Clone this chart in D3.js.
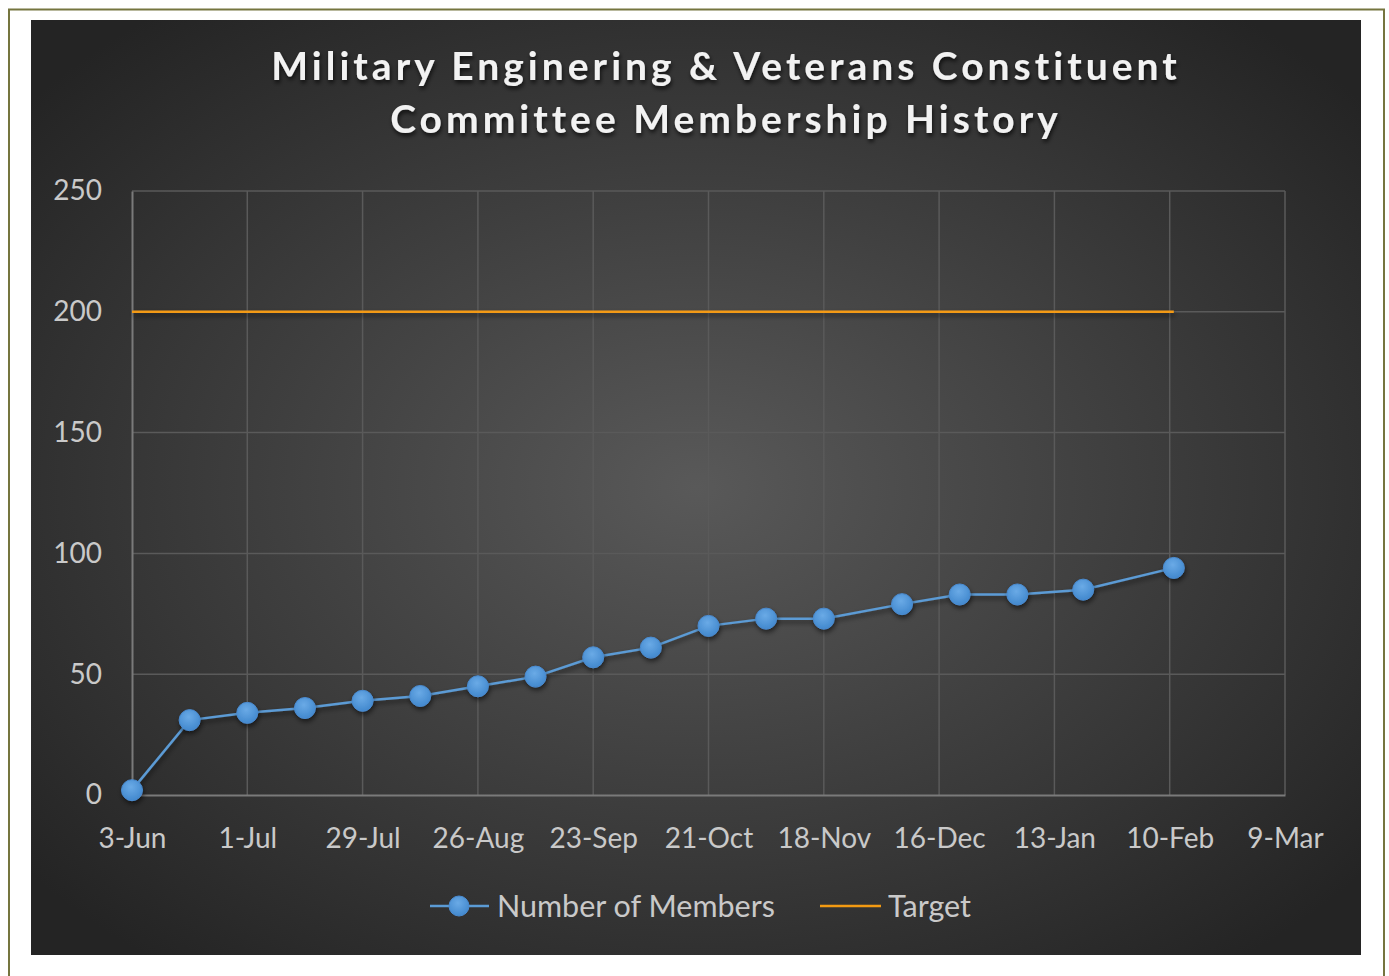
<!DOCTYPE html>
<html>
<head>
<meta charset="utf-8">
<script src="https://cdn.jsdelivr.net/npm/d3@7"></script>
<style>
  body { margin: 0; background: #fff; }
  svg { display: block; }
</style>
</head>
<body>
<div id="chart"></div>
<script>
// data
const dates = ['2019-06-03', '2019-06-17', '2019-07-01', '2019-07-15', '2019-07-29', '2019-08-12',
  '2019-08-26', '2019-09-09', '2019-09-23', '2019-10-07', '2019-10-21', '2019-11-04', '2019-11-18',
  '2019-12-07', '2019-12-21', '2020-01-04', '2020-01-20', '2020-02-11']
const members = [2, 31, 34, 36, 39, 41, 45, 49, 57, 61, 70, 73, 73, 79, 83, 83, 85, 94]
const target = 200
const yTicks = [0, 50, 100, 150, 200, 250]
const titleLines = ['Military Enginering & Veterans Constituent', 'Committee Membership History']
const legendNames = ['Number of Members', 'Target']

const W = 1389, H = 976
const parse = d3.timeParse('%Y-%m-%d')
const data = dates.map((d, i) => ({date: parse(d), value: members[i]}))

const svg = d3.select('#chart').append('svg')
  .attr('width', W)
  .attr('height', H)

const defs = svg.append('defs')
const bg = defs.append('radialGradient')
  .attr('id', 'bg')
  .attr('cx', '50%').attr('cy', '50%').attr('r', '65%')
bg.append('stop').attr('offset', '0%').attr('stop-color', '#595959')
bg.append('stop').attr('offset', '100%').attr('stop-color', '#242424')

const dot = defs.append('radialGradient')
  .attr('id', 'dot')
  .attr('cx', '45%').attr('cy', '35%').attr('r', '70%')
dot.append('stop').attr('offset', '0%').attr('stop-color', '#6aaae6')
dot.append('stop').attr('offset', '100%').attr('stop-color', '#3f86cc')

// shadow filter in user space so flat lines keep it
const shadow = defs.append('filter').attr('id', 'shadow')
  .attr('filterUnits', 'userSpaceOnUse')
  .attr('x', 0).attr('y', 0).attr('width', W).attr('height', H)
shadow.append('feDropShadow')
  .attr('dx', 1).attr('dy', 3).attr('stdDeviation', 2.5)
  .attr('flood-color', '#000').attr('flood-opacity', 0.55)

const tshadow = defs.append('filter').attr('id', 'tshadow')
  .attr('x', '-5%').attr('y', '-20%').attr('width', '110%').attr('height', '150%')
tshadow.append('feDropShadow')
  .attr('dx', 1).attr('dy', 3).attr('stdDeviation', 2)
  .attr('flood-color', '#000').attr('flood-opacity', 0.7)

// outer page border
svg.append('rect')
  .attr('x', 9).attr('y', 9.5)
  .attr('width', 1375).attr('height', 990)
  .attr('fill', 'none')
  .attr('stroke', '#75753f')
  .attr('stroke-width', 2)

// chart area
svg.append('rect')
  .attr('x', 31).attr('y', 20)
  .attr('width', 1330).attr('height', 935)
  .attr('fill', 'url(#bg)')

const margin = {left: 132, right: W - 1285, top: 191, bottom: H - 795}
const x = d3.scaleTime()
  .domain([parse('2019-06-03'), parse('2020-03-09')])
  .range([margin.left, W - margin.right])
const y = d3.scaleLinear()
  .domain([0, 250])
  .range([H - margin.bottom, margin.top])

const xTicks = d3.timeDay.every(1).range(parse('2019-06-03'), parse('2020-03-10'))
  .filter((d, i) => i % 28 === 0)

const font = 'Lato, "Open Sans", sans-serif'

// grid
svg.append('g')
  .selectAll('line')
  .data(yTicks.slice(1))
  .join('line')
    .attr('x1', x.range()[0]).attr('x2', x.range()[1])
    .attr('y1', d => y(d)).attr('y2', d => y(d))
    .attr('stroke', '#5a5a5a').attr('stroke-width', 1.5)
svg.append('g')
  .selectAll('line')
  .data(xTicks.slice(1))
  .join('line')
    .attr('x1', d => x(d)).attr('x2', d => x(d))
    .attr('y1', y(0)).attr('y2', y(250))
    .attr('stroke', '#5a5a5a').attr('stroke-width', 1.5)

// axes
const xAxis = svg.append('g')
  .attr('transform', 'translate(0,' + y(0) + ')')
  .call(d3.axisBottom(x).tickValues(xTicks).tickFormat(d3.timeFormat('%-d-%b')).tickSize(0).tickPadding(33))
xAxis.select('.domain').attr('stroke', '#7a7a7a').attr('stroke-width', 2)
xAxis.selectAll('text')
  .attr('fill', '#c9c9c9')
  .attr('font-family', font)
  .attr('font-size', 28)

const yAxis = svg.append('g')
  .attr('transform', 'translate(' + x.range()[0] + ',0)')
  .call(d3.axisLeft(y).tickValues(yTicks).tickSize(0).tickPadding(30))
yAxis.select('.domain').attr('stroke', '#7a7a7a').attr('stroke-width', 2)
yAxis.selectAll('text')
  .attr('fill', '#c9c9c9')
  .attr('font-family', font)
  .attr('font-size', 28)

// target line
svg.append('line')
  .attr('x1', x(data[0].date)).attr('x2', x(data[data.length - 1].date))
  .attr('y1', y(target)).attr('y2', y(target))
  .attr('stroke', '#f39a12')
  .attr('stroke-width', 2.5)
  .attr('filter', 'url(#shadow)')

// members line
const line = d3.line()
  .x(d => x(d.date))
  .y(d => y(d.value))
svg.append('path')
  .datum(data)
  .attr('d', line)
  .attr('fill', 'none')
  .attr('stroke', '#5b9bd5')
  .attr('stroke-width', 2.5)
  .attr('filter', 'url(#shadow)')

svg.append('g')
  .selectAll('circle')
  .data(data)
  .join('circle')
    .attr('cx', d => x(d.date))
    .attr('cy', d => y(d.value))
    .attr('r', 10.5)
    .attr('fill', 'url(#dot)')
    .attr('stroke', '#4a8bd0')
    .attr('stroke-width', 1)
    .attr('filter', 'url(#shadow)')

// title
svg.append('g')
  .selectAll('text')
  .data(titleLines)
  .join('text')
    .attr('x', 726)
    .attr('y', (d, i) => 80 + i * 53)
    .attr('text-anchor', 'middle')
    .attr('font-family', font)
    .attr('font-weight', 'bold')
    .attr('font-size', 39)
    .attr('letter-spacing', 4)
    .attr('fill', '#f2f2f2')
    .attr('filter', 'url(#tshadow)')
    .text(d => d)

// legend
const legend = svg.append('g')
legend.append('line')
  .attr('x1', 430).attr('x2', 489).attr('y1', 906).attr('y2', 906)
  .attr('stroke', '#5b9bd5').attr('stroke-width', 2.5)
legend.append('circle')
  .attr('cx', 459).attr('cy', 906).attr('r', 10)
  .attr('fill', 'url(#dot)')
  .attr('stroke', '#4a8bd0')
legend.append('text')
  .attr('x', 497).attr('y', 917)
  .attr('font-family', font).attr('font-size', 30.5).attr('fill', '#c9c9c9')
  .text(legendNames[0])
legend.append('line')
  .attr('x1', 820).attr('x2', 881).attr('y1', 906).attr('y2', 906)
  .attr('stroke', '#f39a12').attr('stroke-width', 2.5)
legend.append('text')
  .attr('x', 888).attr('y', 917)
  .attr('font-family', font).attr('font-size', 30.5).attr('fill', '#c9c9c9')
  .text(legendNames[1])
</script>
</body>
</html>
